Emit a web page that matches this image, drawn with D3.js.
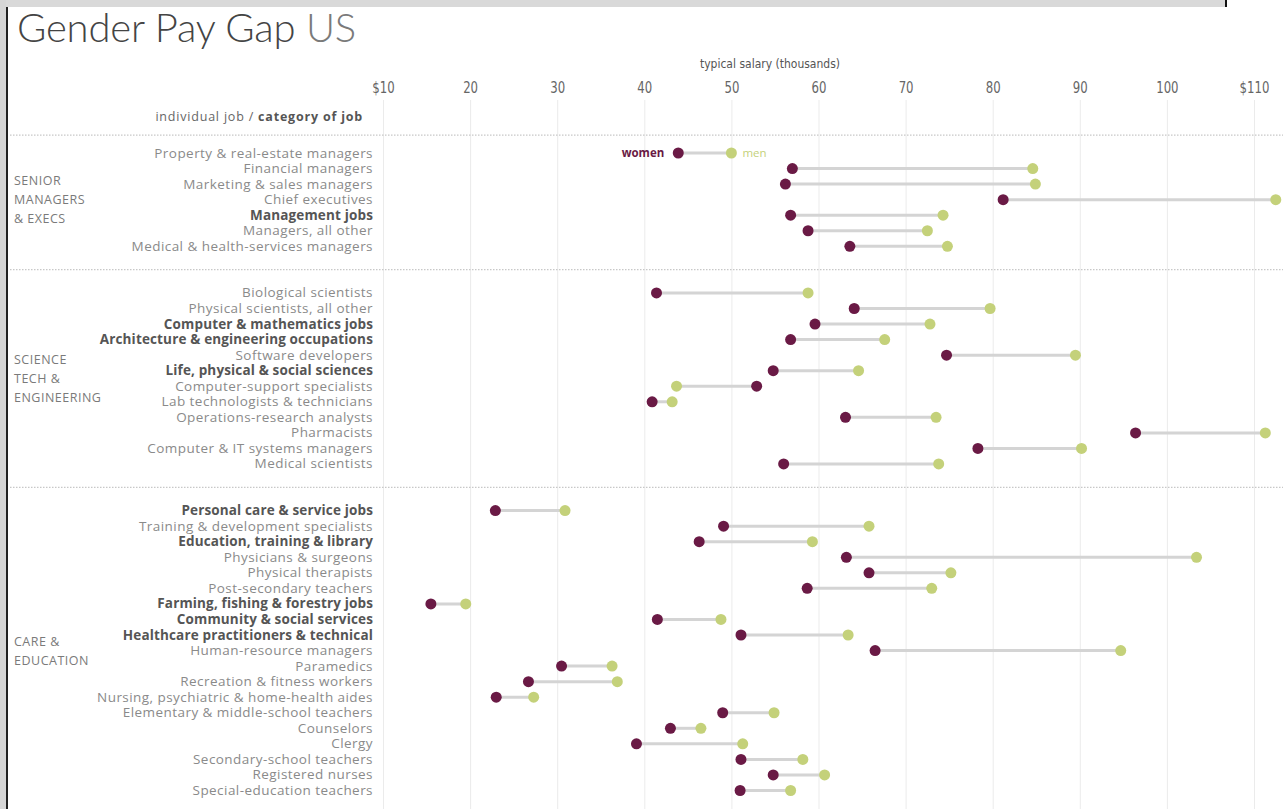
<!DOCTYPE html>
<html>
<head>
<meta charset="utf-8">
<script src="https://cdn.jsdelivr.net/npm/d3@7"></script>
<style>
  html, body { margin: 0; padding: 0; background: #fff; }
  svg { display: block; }
</style>
</head>
<body>
<div id="chart"></div>
<script>
// ---------- data ----------
const groups = ["SENIOR MANAGERS & EXECS", "SCIENCE TECH & ENGINEERING", "CARE & EDUCATION"];
const groupLines = [["SENIOR", "MANAGERS", "& EXECS"], ["SCIENCE", "TECH &", "ENGINEERING"], ["CARE &", "EDUCATION"]];

const jobs = [
  "Property & real-estate managers", "Financial managers", "Marketing & sales managers", "Chief executives",
  "Management jobs", "Managers, all other", "Medical & health-services managers",
  "Biological scientists", "Physical scientists, all other", "Computer & mathematics jobs",
  "Architecture & engineering occupations", "Software developers", "Life, physical & social sciences",
  "Computer-support specialists", "Lab technologists & technicians", "Operations-research analysts",
  "Pharmacists", "Computer & IT systems managers", "Medical scientists",
  "Personal care & service jobs", "Training & development specialists", "Education, training & library",
  "Physicians & surgeons", "Physical therapists", "Post-secondary teachers",
  "Farming, fishing & forestry jobs", "Community & social services", "Healthcare practitioners & technical",
  "Human-resource managers", "Paramedics", "Recreation & fitness workers",
  "Nursing, psychiatric & home-health aides", "Elementary & middle-school teachers", "Counselors",
  "Clergy", "Secondary-school teachers", "Registered nurses", "Special-education teachers"
];
const jobGroup = [
  0,0,0,0,0,0,0,
  1,1,1,1,1,1,1,1,1,1,1,1,
  2,2,2,2,2,2,2,2,2,2,2,2,2,2,2,2,2,2,2
];
const isCategory = [
  false,false,false,false,true,false,false,
  false,false,true,true,false,true,false,false,false,false,false,false,
  true,false,true,false,false,false,true,true,true,false,false,false,false,false,false,false,false,false,false
];
const women = [
  43.9, 57.0, 56.2, 81.2, 56.8, 58.8, 63.6,
  41.4, 64.1, 59.6, 56.8, 74.7, 54.8, 52.9, 40.9, 63.1, 96.4, 78.3, 56.0,
  22.9, 49.1, 46.3, 63.2, 65.8, 58.7, 15.5, 41.5, 51.1, 66.5, 30.5, 26.7, 23.0, 49.0, 43.0, 39.1, 51.1, 54.8, 51.0
];
const men = [
  50.0, 84.6, 84.9, 112.5, 74.3, 72.5, 74.8,
  58.8, 79.7, 72.8, 67.6, 89.5, 64.6, 43.7, 43.2, 73.5, 111.3, 90.2, 73.8,
  30.9, 65.8, 59.3, 103.4, 75.2, 73.0, 19.5, 48.8, 63.4, 94.7, 36.3, 36.9, 27.3, 54.9, 46.5, 51.3, 58.2, 60.7, 56.8
];
const tickValues = [10, 20, 30, 40, 50, 60, 70, 80, 90, 100, 110];
const tickLabels = ["$10", "20", "30", "40", "50", "60", "70", "80", "90", "100", "$110"];
const legendLabels = ["women", "men"];

// ---------- layout ----------
const W = 1288, H = 809;
const colWomen = "#6a1a45", colMen = "#c4d17a";
const labelFont = "'Open Sans', Lato, sans-serif";
const narrowFont = "'Liberation Sans Narrow', 'DejaVu Sans Condensed', sans-serif";

const svg = d3.select("#chart").append("svg").attr("width", W).attr("height", H);

// screenshot frame artefacts
svg.append("rect").attr("x", 0).attr("y", 0).attr("width", 1226).attr("height", 7).attr("fill", "#d9d9d9");
svg.append("rect").attr("x", 1225).attr("y", 0).attr("width", 2).attr("height", 7).attr("fill", "#111");
svg.append("rect").attr("x", 0).attr("y", 0).attr("width", 6).attr("height", H).attr("fill", "#d6d6d6");
svg.append("rect").attr("x", 6).attr("y", 7).attr("width", 2).attr("height", H - 7).attr("fill", "#222");

// title
const title = svg.append("text").attr("x", 17).attr("y", 42)
  .attr("font-family", "Lato, sans-serif").attr("font-size", 40).attr("font-weight", 300)
  .attr("letter-spacing", -0.2);
title.append("tspan").attr("fill", "#444").text("Gender Pay Gap ");
title.append("tspan").attr("fill", "#7a7a7a").text("US");

// scales
const x = d3.scaleLinear().domain([10, 110]).range([383, 1254]);
const slot = jobs.map((d, i) => i + 2 * jobGroup[i]);
const y = d3.scaleLinear().domain([0, 41]).range([153, 790.5]);

// axis with grid lines
const axis = d3.axisTop(x).tickValues(tickValues)
  .tickFormat((d, i) => tickLabels[i]).tickSize(-(H - 100)).tickPadding(7);
const ax = svg.append("g").attr("transform", "translate(0,100)").call(axis);
ax.select(".domain").remove();
ax.selectAll(".tick line").attr("stroke", "#ebebeb").attr("stroke-width", 1);
ax.selectAll(".tick text")
  .attr("font-family", narrowFont).attr("font-size", 14.5).attr("fill", "#666")
  .attr("transform", "scale(0.9,1.05)");

svg.append("text").attr("x", 770).attr("y", 68).attr("text-anchor", "middle")
  .attr("font-family", narrowFont).attr("font-size", 12).attr("fill", "#555")
  .text("typical salary (thousands)");

const hdr = svg.append("text").attr("x", 363).attr("y", 121).attr("text-anchor", "end")
  .attr("font-family", labelFont).attr("font-size", 12.5).attr("fill", "#666").attr("letter-spacing", 0.8);
hdr.append("tspan").text("individual job / ");
hdr.append("tspan").attr("font-weight", 700).attr("fill", "#555").text("category of job");

// separators
const sepSlots = [-1.15, 7.5, 21.5];
svg.append("g").selectAll("line").data(sepSlots).join("line")
  .attr("x1", 10).attr("x2", 1283)
  .attr("y1", d => y(d)).attr("y2", d => y(d))
  .attr("stroke", "#c8c8c8").attr("stroke-width", 1.2).attr("stroke-dasharray", "1.5,1.5");

// group labels
const groupMid = groups.map((g, gi) => {
  const s = slot.filter((d, i) => jobGroup[i] === gi);
  return (d3.min(s) + d3.max(s)) / 2;
});
const gl = svg.append("g");
groupLines.forEach((lines, gi) => {
  const cy = y(groupMid[gi]);
  lines.forEach((ln, li) => {
    gl.append("text").attr("x", 14).attr("y", cy + (li - (lines.length - 1) / 2) * 19 + 4.5)
      .attr("font-family", labelFont).attr("font-size", 12.5).attr("fill", "#7a7a7a")
      .attr("letter-spacing", 0.5).text(ln);
  });
});

// job labels
svg.append("g").selectAll("text").data(jobs).join("text")
  .attr("x", 373).attr("y", (d, i) => y(slot[i]) + 4.5)
  .attr("text-anchor", "end")
  .attr("font-family", labelFont).attr("font-size", 13.5)
  .attr("letter-spacing", (d, i) => isCategory[i] ? 0.15 : 0.45)
  .attr("font-weight", (d, i) => isCategory[i] ? 700 : 400)
  .attr("fill", (d, i) => isCategory[i] ? "#555" : "#8a8a8a")
  .text(d => d);

// dumbbells
const rows = jobs.map((d, i) => ({ job: d, w: women[i], m: men[i], s: slot[i] }));
const g = svg.append("g");
g.selectAll("line").data(rows).join("line")
  .attr("x1", d => x(d.w)).attr("x2", d => x(d.m))
  .attr("y1", d => y(d.s)).attr("y2", d => y(d.s))
  .attr("stroke", "#d4d4d4").attr("stroke-width", 3);
g.selectAll("circle.m").data(rows).join("circle").attr("class", "m")
  .attr("cx", d => x(d.m)).attr("cy", d => y(d.s)).attr("r", 5.5).attr("fill", colMen);
g.selectAll("circle.w").data(rows).join("circle").attr("class", "w")
  .attr("cx", d => x(d.w)).attr("cy", d => y(d.s)).attr("r", 5.5).attr("fill", colWomen);

// legend on first row
svg.append("text").attr("x", x(rows[0].w) - 14).attr("y", y(rows[0].s) + 4)
  .attr("text-anchor", "end").attr("font-family", labelFont).attr("font-size", 11.5)
  .attr("font-weight", 700).attr("fill", colWomen).text(legendLabels[0]);
svg.append("text").attr("x", x(rows[0].m) + 11).attr("y", y(rows[0].s) + 4)
  .attr("font-family", labelFont).attr("font-size", 11.5)
  .attr("fill", colMen).text(legendLabels[1]);
</script>
</body>
</html>
